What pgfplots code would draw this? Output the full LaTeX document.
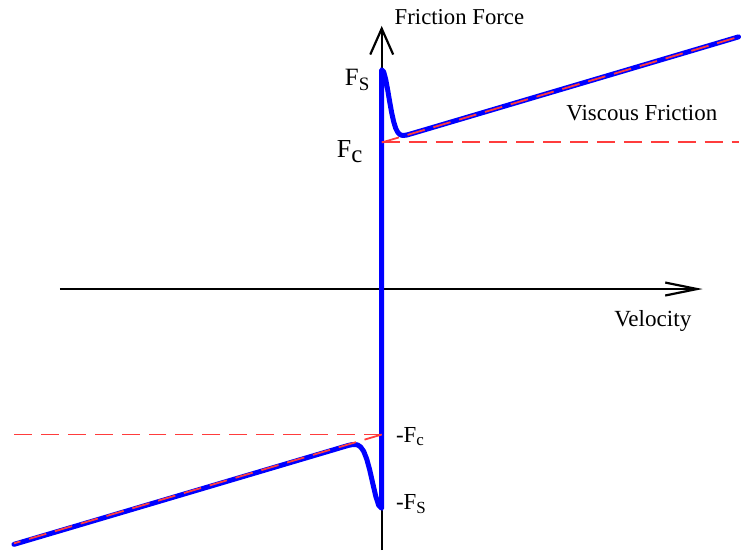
\documentclass[border=0pt]{standalone}
\usepackage{pgfplots}
\pgfplotsset{compat=1.18}
\usetikzlibrary{arrows.meta}
\usepackage{fontspec}
\setmainfont{Liberation Serif}
\definecolor{fblue}{RGB}{0,0,255}
\definecolor{fred}{RGB}{255,60,60}
\begin{document}
\begin{tikzpicture}
\begin{axis}[x=0.5pt,y=0.5pt,scale only axis,
  xmin=-383,xmax=358,ymin=-262,ymax=290,
  hide axis,clip=false]
% frame of the picture (invisible)
\addplot[draw=none,forget plot] coordinates {(-383,-262) (358,290)};
% axes
\draw[line width=1.1pt,-{Straight Barb[length=16pt,width=6.5pt,line width=1.1pt]}] (axis cs:-323,0) -- (axis cs:322,0);
\draw[line width=1.1pt,-{Straight Barb[length=13pt,width=11.5pt,line width=1.1pt]}] (axis cs:0,-262) -- (axis cs:0,264);
% friction curve
\addplot[fblue,line width=2.5pt,line join=round,line cap=round] coordinates {
(-369,-256.2) (-300,-235.8) (-200,-206.2) (-100,-176.6) (-50,-161.8) (-40,-158.8) (-33,-156.8)
(-30,-156.2) (-27,-156.0) (-24,-156.5) (-21,-158.6) (-18,-163.0) (-15,-170.7)
(-12,-181.7) (-9,-194.9) (-6,-207.8) (-3,-217.1) (0,-220)
(0,220) (2,217.8) (4,210.4) (6,199.7) (8,187.9) (10,176.8) (12,167.9) (14,161.4)
(16,157.4) (18,155.2) (20,154.3) (22,154.1) (25,154.5) (30,155.9) (50,161.8)
(100,176.6) (200,206.2) (300,235.8) (358,253)
};
% viscous and Coulomb lines
\addplot[fred,line width=0.9pt,dash pattern=on 9pt off 4.5pt] coordinates {(0,147) (358,253)};
\addplot[fred,line width=0.9pt,dash pattern=on 9pt off 4.5pt] coordinates {(0,147.5) (358,147.5)};
\addplot[fred,line width=0.9pt,dash pattern=on 9pt off 4.5pt] coordinates {(0,-146) (-369,-255.2)};
\addplot[fred,line width=0.9pt,dash pattern=on 9pt off 4.5pt] coordinates {(0,-146) (-369,-146)};
% labels
\node[anchor=west,font=\fontsize{11.4}{13}\selectfont] at (axis cs:6,273) {Friction Force};
\node[anchor=center,font=\fontsize{11.5}{13}\selectfont] at (axis cs:261,177) {Viscous Friction};
\node[anchor=center,font=\fontsize{11.6}{13}\selectfont] at (axis cs:272,-32) {Velocity};
\node[anchor=east,inner sep=1pt,font=\fontsize{12.5}{14}\selectfont] at (axis cs:-10,210) {F\raisebox{-0.4ex}{\fontsize{9.5}{10}\selectfont S}};
\node[anchor=east,inner sep=1pt,font=\fontsize{13}{14}\selectfont] at (axis cs:-17,138) {F\raisebox{-0.45ex}{\fontsize{12.5}{13}\selectfont c}};
\node[anchor=west,inner sep=1pt,font=\fontsize{11.5}{13}\selectfont] at (axis cs:12,-148) {-F\raisebox{-0.35ex}{\fontsize{8.5}{9}\selectfont c}};
\node[anchor=west,inner sep=1pt,font=\fontsize{11.5}{13}\selectfont] at (axis cs:12,-216) {-F\raisebox{-0.35ex}{\fontsize{8.5}{9}\selectfont S}};
\end{axis}
\end{tikzpicture}
\end{document}
